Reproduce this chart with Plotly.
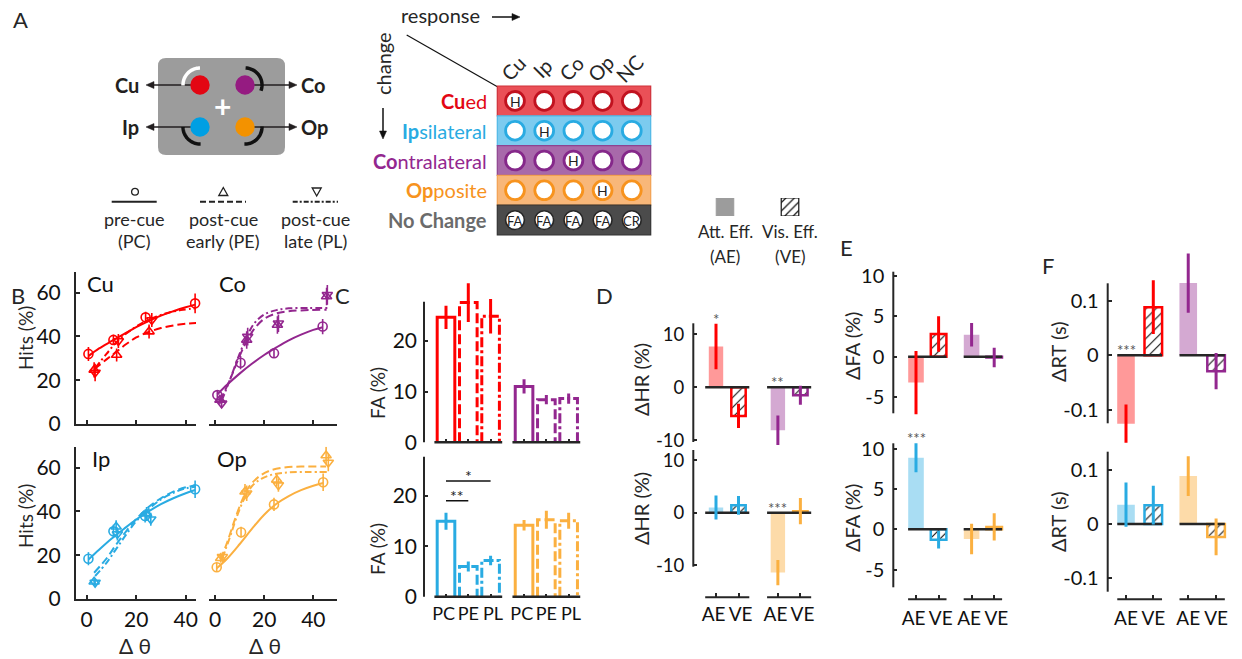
import math
import plotly.graph_objects as go

W, H = 1242, 659
FONT = "Lato, 'Noto Sans', 'DejaVu Sans', sans-serif"
INK = "#262626"
TICK = 21
NB = "\u00a0"

# ======================= DATA =======================
conditions = ["PC", "PE", "PL"]
effects = ["AE", "VE"]
locations = ["Cu", "Co", "Ip", "Op"]

# ---- Panel B: hits (%) vs orientation change (deg) ----
cu_pc_dt = [0.7, 10.8, 23.8, 43.8]
cu_pc_hit = [32.0, 38.4, 48.7, 55.1]
cu_pc_err = [3.2, 2.3, 2.5, 4.5]
cu_pe_dt = [3.0, 12.1, 25.2, 44.7]
cu_pe_hit = [24.7, 31.5, 42.2, 46.3]
cu_pe_err = [3.5, 3.0, 3.2, 4.0]
cu_pl_dt = [3.4, 12.8, 26.3, 45.8]
cu_pl_hit = [23.5, 37.9, 47.5, 53.3]
cu_pl_err = [4.0, 3.2, 3.2, 4.2]

co_pc_dt = [0.95, 10.4, 24.0, 43.8]
co_pc_hit = [13.2, 28.0, 32.3, 44.5]
co_pc_err = [2.0, 3.0, 2.2, 3.5]
co_pe_dt = [2.0, 12.9, 25.4, 45.4]
co_pe_hit = [11.0, 38.4, 45.2, 58.2]
co_pe_err = [2.0, 4.0, 4.0, 4.0]
co_pl_dt = [2.7, 13.3, 25.8, 45.7]
co_pl_hit = [9.4, 39.9, 46.0, 59.0]
co_pl_err = [2.0, 4.0, 4.0, 4.5]

ip_pc_dt = [0.7, 10.8, 23.6, 43.8]
ip_pc_hit = [18.4, 30.9, 37.9, 50.1]
ip_pc_err = [3.0, 3.0, 3.0, 4.0]
ip_pe_dt = [3.0, 11.9, 24.2, 45.1]
ip_pe_hit = [7.9, 33.0, 39.0, 54.4]
ip_pe_err = [1.5, 3.0, 3.0, 4.0]
ip_pl_dt = [3.4, 12.4, 25.9, 45.8]
ip_pl_hit = [7.5, 29.7, 36.4, 53.6]
ip_pl_err = [1.5, 3.0, 3.0, 4.0]

op_pc_dt = [0.7, 10.6, 24.0, 44.0]
op_pc_hit = [14.5, 30.5, 43.2, 53.3]
op_pc_err = [2.0, 2.5, 3.0, 4.0]
op_pe_dt = [2.3, 12.2, 25.1, 45.2]
op_pe_hit = [18.6, 49.0, 54.4, 65.5]
op_pe_err = [2.0, 3.5, 3.0, 4.0]
op_pl_dt = [3.0, 12.9, 25.8, 46.1]
op_pl_hit = [19.3, 48.3, 52.0, 62.3]
op_pl_err = [2.0, 3.5, 3.0, 4.0]

# fitted psychometric curves
cu_pc_fit_dt = [0.7, 5, 10, 15, 20, 25, 30, 35, 40, 43.8]
cu_pc_fit_hit = [31, 34.5, 37.8, 41, 44.2, 47, 49.5, 51.5, 53.3, 54.5]
cu_pe_fit_dt = [3, 8, 12, 16, 20, 25, 30, 35, 40, 44.7]
cu_pe_fit_hit = [25, 29.5, 33, 36.5, 39.5, 42, 43.8, 45, 45.8, 46.2]
cu_pl_fit_dt = [3.4, 8, 12.8, 18, 23, 28, 33, 38, 45.8]
cu_pl_fit_hit = [25.5, 32, 38.3, 43, 46.5, 49, 50.8, 52, 53]

co_pc_fit_dt = [0.95, 5, 10, 15, 20, 25, 30, 35, 40, 43.8]
co_pc_fit_hit = [13.5, 18, 23, 27.5, 31.5, 35, 38.2, 40.8, 43, 44.2]
co_pe_fit_dt = [2, 6, 10, 13, 16, 20, 25, 30, 38, 45.4]
co_pe_fit_hit = [10.5, 20, 31, 38, 43.5, 48, 50.5, 51.5, 52, 52.2]
co_pl_fit_dt = [2.7, 6, 10, 13, 16, 20, 25, 30, 38, 45.7]
co_pl_fit_hit = [10.5, 20, 32, 40, 46, 50, 52, 52.8, 53, 53]

ip_pc_fit_dt = [0.7, 5, 10, 15, 20, 25, 30, 35, 40, 43.8]
ip_pc_fit_hit = [18, 22.5, 27.5, 32, 36.3, 40, 43.3, 46, 48.3, 49.8]
ip_pe_fit_dt = [3, 8, 12, 16, 20, 25, 30, 35, 40, 45.1]
ip_pe_fit_hit = [12, 18.5, 25, 31, 36.5, 42, 46, 49, 51, 52]
ip_pl_fit_dt = [3.4, 8, 12, 16, 20, 25, 30, 35, 40, 45.8]
ip_pl_fit_hit = [10.5, 16.5, 23, 29.5, 35.5, 41, 45.5, 48.5, 50.5, 51.5]

op_pc_fit_dt = [0.7, 5, 10, 15, 20, 25, 30, 35, 40, 44]
op_pc_fit_hit = [14, 18.5, 25, 32, 38.5, 43.5, 47, 49.7, 51.7, 53]
op_pe_fit_dt = [2.3, 5, 8, 11, 14, 18, 22, 28, 35, 45.2]
op_pe_fit_hit = [18, 26, 36, 45, 51.5, 56, 58.5, 60, 60.5, 60.5]
op_pl_fit_dt = [3, 6, 9, 12, 15, 19, 24, 30, 38, 46.1]
op_pl_fit_hit = [18.5, 28, 38, 46, 51.5, 55, 57, 57.8, 58, 58]

dtheta_ticks = [0, 20, 40]
hits_ticks = [0, 20, 40, 60]

# ---- Panel C: false alarms (%) ----
fa_cu = [24.6, 27.5, 24.8]
fa_cu_err = [2.3, 3.8, 3.4]
fa_co = [11.0, 8.4, 8.6]
fa_co_err = [1.4, 0.9, 1.0]
fa_ip = [15.0, 6.0, 7.2]
fa_ip_err = [1.7, 1.0, 0.95]
fa_op = [14.2, 15.3, 15.1]
fa_op_err = [1.05, 1.8, 1.6]
fa_ticks = [0, 10, 20]
# significance brackets (Ip): from, to, height, label
fa_ip_sig = [("PC", "PE", 19.1, "**"), ("PC", "PL", 23.0, "*")]

# ---- Panel D: delta hit rate (%) [AE, VE] ----
dhr_cu = [7.7, -5.4]
dhr_cu_err = [4.3, 2.3]
dhr_co = [-8.1, -1.5]
dhr_co_err = [2.8, 1.8]
dhr_ip = [1.0, 1.4]
dhr_ip_err = [2.3, 1.8]
dhr_op = [-11.4, 0.3]
dhr_op_err = [2.4, 2.5]
dhr_sig_cu = ["*", ""]
dhr_sig_co = ["**", ""]
dhr_sig_ip = ["", ""]
dhr_sig_op = ["***", ""]

# ---- Panel E: delta false alarms (%) ----
dfa_cu = [-3.2, 2.8]
dfa_cu_err = [3.9, 2.2]
dfa_co = [2.7, -0.1]
dfa_co_err = [1.45, 1.2]
dfa_ip = [8.9, -1.3]
dfa_ip_err = [1.8, 1.1]
dfa_op = [-1.2, 0.3]
dfa_op_err = [1.9, 1.7]
dfa_sig_cu = ["", ""]
dfa_sig_co = ["", ""]
dfa_sig_ip = ["***", ""]
dfa_sig_op = ["", ""]

# ---- Panel F: delta reaction time (s) ----
drt_cu = [-0.125, 0.088]
drt_cu_err = [0.035, 0.049]
drt_co = [0.132, -0.029]
drt_co_err = [0.054, 0.033]
drt_ip = [0.036, 0.035]
drt_ip_err = [0.041, 0.036]
drt_op = [0.089, -0.024]
drt_op_err = [0.037, 0.034]
drt_sig_cu = ["***", ""]
drt_sig_co = ["", ""]
drt_sig_ip = ["", ""]
drt_sig_op = ["", ""]

# ---- Panel A: response matrix ----
mat_rows = ["<b>Cu</b>ed", "<b>Ip</b>silateral", "<b>Co</b>ntralateral", "<b>Op</b>posite", "<b>No Change</b>"]
mat_cols = ["Cu", "Ip", "Co", "Op", "NC"]
mat_cells = [["H", "", "", "", ""],
             ["", "H", "", "", ""],
             ["", "", "H", "", ""],
             ["", "", "", "H", ""],
             ["FA", "FA", "FA", "FA", "CR"]]
legend_lines = [["pre-cue", "(PC)"], ["post-cue", "early (PE)"], ["post-cue", "late (PL)"]]

# ======================= STYLE =======================
loc_color = {"Cu": "#ff0000", "Co": "#93278f", "Ip": "#29abe2", "Op": "#fbb040"}
loc_light = {"Cu": "rgba(255,0,0,0.40)", "Co": "rgba(147,39,143,0.40)",
             "Ip": "rgba(41,171,226,0.40)", "Op": "rgba(251,176,64,0.45)"}

traces, shapes, annots = [], [], []
axes = {}


def PX(x):
    return x / W


def PY(y):
    return 1 - y / H


def xr(n):
    return "x" if n == 1 else f"x{n}"


def yr(n):
    return "y" if n == 1 else f"y{n}"


def tf(size):
    return dict(size=size, color="#111", family=FONT)


def base_axis():
    return dict(showgrid=False, zeroline=False, automargin=False, fixedrange=True,
                linecolor=INK, linewidth=2, tickcolor=INK, tickwidth=1.5, ticklen=4,
                ticks="inside", showline=False, tickangle=0, tickfont=tf(TICK))


def make_axes(n, xs, ys, xo=None, yo=None):
    p0, p1, z, s = xs
    pb, pt, zy, sy = ys
    xa = base_axis()
    xa.update(domain=[PX(p0), PX(p1)], range=[(p0 - z) / s, (p1 - z) / s], anchor=yr(n))
    ya = base_axis()
    ya.update(domain=[PY(pb), PY(pt)], range=[(zy - pb) / sy, (zy - pt) / sy], anchor=xr(n))
    xa.update(xo or {})
    ya.update(yo or {})
    axes["xaxis" if n == 1 else f"xaxis{n}"] = xa
    axes["yaxis" if n == 1 else f"yaxis{n}"] = ya


def xmap(xs, v):
    return xs[2] + v * xs[3]


def add_line(x0, y0, x1, y1, color=INK, width=1.5, dash=None):
    ln = dict(color=color, width=width)
    if dash:
        ln["dash"] = dash
    shapes.append(dict(type="line", xref="paper", yref="paper", x0=PX(x0), y0=PY(y0),
                       x1=PX(x1), y1=PY(y1), line=ln))


def add_path(pts, closed=False, color=INK, width=1.5, fill=None):
    s = "M " + " L ".join(f"{PX(x):.5f},{PY(y):.5f}" for x, y in pts)
    if closed:
        s += " Z"
    shapes.append(dict(type="path", xref="paper", yref="paper", path=s,
                       line=dict(color=color, width=width),
                       fillcolor=fill if fill else "rgba(0,0,0,0)"))


def add_rect(x0, y0, x1, y1, fill, color=None, width=0):
    shapes.append(dict(type="rect", xref="paper", yref="paper", x0=PX(x0), x1=PX(x1),
                       y0=PY(y1), y1=PY(y0), fillcolor=fill,
                       line=dict(color=color or fill, width=width)))


def add_circle(cx, cy, r, fill, color=None, width=0):
    shapes.append(dict(type="circle", xref="paper", yref="paper", x0=PX(cx - r), x1=PX(cx + r),
                       y0=PY(cy + r), y1=PY(cy - r), fillcolor=fill,
                       line=dict(color=color or fill, width=width)))


def add_arc(cx, cy, r, a0, a1, color, width):
    pts = []
    n = 24
    for i in range(n + 1):
        a = math.radians(a0 + (a1 - a0) * i / n)
        pts.append((cx + r * math.cos(a), cy - r * math.sin(a)))
    add_path(pts, color=color, width=width)


def add_arrow(x0, y0, x1, y1, color=INK, width=1.5, L=8, hw=3.5):
    d = math.hypot(x1 - x0, y1 - y0)
    ux, uy = (x1 - x0) / d, (y1 - y0) / d
    bx, by = x1 - L * ux, y1 - L * uy
    add_line(x0, y0, bx, by, color=color, width=width)
    add_path([(x1, y1), (bx - hw * uy, by + hw * ux), (bx + hw * uy, by - hw * ux)],
             closed=True, color=color, width=0.5, fill=color)


def add_text(x, y, s, size=17, color=INK, angle=0, xanchor="center", yanchor="middle"):
    annots.append(dict(xref="paper", yref="paper", x=PX(x), y=PY(y), text=s, showarrow=False,
                       textangle=angle, xanchor=xanchor, yanchor=yanchor,
                       font=dict(size=size, color=color, family=FONT)))


# ======================= PANEL A =======================
add_text(20, 20, "A", size=22)
# display schematic
r = 8
x0, y0, x1, y1 = 158, 58, 285, 155
p = (f"M {PX(x0+r)},{PY(y0)} L {PX(x1-r)},{PY(y0)} Q {PX(x1)},{PY(y0)} {PX(x1)},{PY(y0+r)} "
     f"L {PX(x1)},{PY(y1-r)} Q {PX(x1)},{PY(y1)} {PX(x1-r)},{PY(y1)} "
     f"L {PX(x0+r)},{PY(y1)} Q {PX(x0)},{PY(y1)} {PX(x0)},{PY(y1-r)} "
     f"L {PX(x0)},{PY(y0+r)} Q {PX(x0)},{PY(y0)} {PX(x0+r)},{PY(y0)} Z")
shapes.append(dict(type="path", xref="paper", yref="paper", path=p, fillcolor="#9c9c9c",
                   line=dict(width=0)))
dots = {"Cu": (200, 85, "#e30613"), "Co": (245, 85, "#951b81"),
        "Ip": (200, 127, "#009fe3"), "Op": (245, 127, "#f39200")}
add_arrow(200, 85, 146, 85, color="#231f20")
add_arrow(245, 85, 297, 85, color="#231f20")
add_arrow(200, 127, 146, 127, color="#231f20")
add_arrow(245, 127, 297, 127, color="#231f20")
add_arc(200, 85, 17, 90, 182, "white", 3.5)
add_arc(245, 85, 17, -20, 88, "#111", 3.5)
add_arc(200, 127, 17, 180, 272, "#111", 3.5)
add_arc(245, 127, 17, -92, 2, "#111", 3.5)
for k, (cx, cy, c) in dots.items():
    add_circle(cx, cy, 9.7, c)
add_text(222, 106, "<b>+</b>", size=30, color="white")
add_text(127, 85, "<b>Cu</b>", size=20, color="#231f20")
add_text(313, 85, "<b>Co</b>", size=20, color="#231f20")
add_text(130, 127, "<b>Ip</b>", size=20, color="#231f20")
add_text(314, 127, "<b>Op</b>", size=20, color="#231f20")

# condition line-style legend
leg_x = [(111.7, 156.7), (200, 246), (292.7, 338)]
leg_dash = ["solid", "6px,3px", "5px,2px,2px,2px"]
for k in range(3):
    a, b = leg_x[k]
    cx = (a + b) / 2
    add_line(a, 201.7, b, 201.7, color="#222", width=2, dash=leg_dash[k])
    add_text(cx, 219, legend_lines[k][0], size=18)
    add_text(cx, 241, legend_lines[k][1], size=18)
add_circle(135, 191.7, 3.4, "rgba(0,0,0,0)", color="#222", width=1.3)
add_path([(223.3 - 4.5, 195.5), (223.3 + 4.5, 195.5), (223.3, 187.5)], closed=True, color="#222", width=1.3)
add_path([(316.7 - 4.5, 188), (316.7 + 4.5, 188), (316.7, 196)], closed=True, color="#222", width=1.3)

# response matrix
add_text(440, 15, "response", size=20)
add_arrow(492, 17, 520, 17, color="#111")
add_text(383, 64, "change", size=20, angle=-90)
add_arrow(383, 108, 383, 139, color="#111")
add_line(406.7, 35, 498.3, 87.3, color="#111", width=1.2)
row_bg = ["#ea5057", "#7ccbef", "#a869aa", "#f8b779", "#4b4b4b"]
row_edge = ["#cf3039", "#4fb7e6", "#8d4390", "#f2a050", "#333333"]
circ_edge = ["#c1121f", "#29abe2", "#85288a", "#f7931e", "#262626"]
label_col = ["#e30613", "#29abe2", "#93278f", "#f7931e", "#6b6b6b"]
row_h = 29.8
for i in range(5):
    top = 86 + i * row_h
    add_rect(497.3, top, 650.7, top + row_h, row_bg[i], color=row_edge[i], width=1.2)
    cy = top + row_h / 2
    add_text(489, cy, mat_rows[i], size=20, color=label_col[i], xanchor="right")
    for j in range(5):
        cx = 515 + j * 29.2
        add_circle(cx, cy, 9.4, "white", color=circ_edge[i], width=2.8 if i < 4 else 1.6)
        if mat_cells[i][j]:
            add_text(cx, cy + 0.5, mat_cells[i][j], size=14 if i < 4 else 13, color="#222")
for j in range(5):
    add_text(513 + j * 29.2, 68, mat_cols[j], size=20, angle=-45)

# ======================= PANEL B =======================
hits_points = {
    "Cu": [(cu_pc_dt, cu_pc_hit, cu_pc_err), (cu_pe_dt, cu_pe_hit, cu_pe_err), (cu_pl_dt, cu_pl_hit, cu_pl_err)],
    "Co": [(co_pc_dt, co_pc_hit, co_pc_err), (co_pe_dt, co_pe_hit, co_pe_err), (co_pl_dt, co_pl_hit, co_pl_err)],
    "Ip": [(ip_pc_dt, ip_pc_hit, ip_pc_err), (ip_pe_dt, ip_pe_hit, ip_pe_err), (ip_pl_dt, ip_pl_hit, ip_pl_err)],
    "Op": [(op_pc_dt, op_pc_hit, op_pc_err), (op_pe_dt, op_pe_hit, op_pe_err), (op_pl_dt, op_pl_hit, op_pl_err)],
}
hits_fits = {
    "Cu": [(cu_pc_fit_dt, cu_pc_fit_hit), (cu_pe_fit_dt, cu_pe_fit_hit), (cu_pl_fit_dt, cu_pl_fit_hit)],
    "Co": [(co_pc_fit_dt, co_pc_fit_hit), (co_pe_fit_dt, co_pe_fit_hit), (co_pl_fit_dt, co_pl_fit_hit)],
    "Ip": [(ip_pc_fit_dt, ip_pc_fit_hit), (ip_pe_fit_dt, ip_pe_fit_hit), (ip_pl_fit_dt, ip_pl_fit_hit)],
    "Op": [(op_pc_fit_dt, op_pc_fit_hit), (op_pe_fit_dt, op_pe_fit_hit), (op_pl_fit_dt, op_pl_fit_hit)],
}
BX_L = (76, 196, 86.7, 2.475)
BX_R = (209, 337, 215, 2.458)
BY_T = (424, 271.6, 424, 2.19)
BY_B = (599, 446.7, 599, 2.19)
B_geo = {"Cu": (1, BX_L, BY_T, True, False), "Co": (2, BX_R, BY_T, False, False),
         "Ip": (3, BX_L, BY_B, True, True), "Op": (4, BX_R, BY_B, False, True)}
symbols = ["circle-open", "triangle-up-open", "triangle-down-open"]
curve_dash = ["solid", "8px,4px", "7px,3px,2px,3px"]
for loc in locations:
    n, xs, ys, show_y, bottom = B_geo[loc]
    col = loc_color[loc]
    for k in range(3):
        fx, fy = hits_fits[loc][k]
        traces.append(go.Scatter(x=fx, y=fy, mode="lines", xaxis=xr(n), yaxis=yr(n),
                                 line=dict(color=col, width=2, dash=curve_dash[k], shape="spline", smoothing=1.0),
                                 hoverinfo="skip"))
    for k in range(3):
        dx, hy, he = hits_points[loc][k]
        traces.append(go.Scatter(x=dx, y=hy, mode="markers", xaxis=xr(n), yaxis=yr(n), cliponaxis=False,
                                 marker=dict(symbol=symbols[k], size=9, color=col, line=dict(width=1.6, color=col)),
                                 error_y=dict(type="data", array=he, visible=True, thickness=1.6, width=0, color=col),
                                 name=conditions[k]))
    xo = dict(showline=True, tickvals=dtheta_ticks, showticklabels=bottom, ticklabelstandoff=1)
    yo = dict(showline=True, tickvals=hits_ticks, ticklabelstandoff=9) if show_y else dict(visible=False)
    make_axes(n, xs, ys, xo, yo)
    tx = xmap(xs, 0) + (14 if loc in ("Cu", "Ip") else 17)
    add_text(tx, 283 if not bottom else 458, loc, size=22, color="#111", xanchor="center")
add_text(18, 296, "B", size=22)
add_text(25, 338, "Hits (%)", size=19, angle=-90)
add_text(25, 516, "Hits (%)", size=19, angle=-90)
add_text(135, 645, "Δ θ", size=21)
add_text(265, 645, "Δ θ", size=21)

# ======================= PANEL C =======================
c_pos = [[0, 1, 2], [3.5, 4.5, 5.5]]
c_w = 0.79
c_dash = ["solid", "10px,4px", "10px,3px,3px,3px"]
# condition labels nudged apart with no-break spaces (as in the original)
c_ticktext = [conditions[0] + NB, conditions[1], NB + conditions[2]] * 2
CX = (424, 580, 446, 22.3)
CY_T = (442.3, 280, 442.3, 5.08)
CY_B = (596.7, 456.7, 596.7, 5.03)
C_yline = {5: (301.7, 442.3), 6: (456.7, 596.7)}
C_groups = {5: [("Cu", fa_cu, fa_cu_err), ("Co", fa_co, fa_co_err)],
            6: [("Ip", fa_ip, fa_ip_err), ("Op", fa_op, fa_op_err)]}
for n, ys in ((5, CY_T), (6, CY_B)):
    for g, (loc, vals, errs) in enumerate(C_groups[n]):
        col = loc_color[loc]
        for k in range(3):
            pc = c_pos[g][k]
            v = vals[k]
            traces.append(go.Scatter(x=[pc - c_w / 2, pc - c_w / 2, pc + c_w / 2, pc + c_w / 2],
                                     y=[0, v, v, 0], mode="lines", xaxis=xr(n), yaxis=yr(n),
                                     line=dict(color=col, width=3, dash=c_dash[k]), hoverinfo="skip"))
        traces.append(go.Scatter(x=c_pos[g], y=vals, mode="markers", xaxis=xr(n), yaxis=yr(n), cliponaxis=False,
                                 marker=dict(size=1, color="rgba(0,0,0,0)"),
                                 error_y=dict(type="data", array=errs, visible=True, thickness=3, width=0, color=col)))
        add_line(xmap(CX, c_pos[g][0] - 0.52), ys[0], xmap(CX, c_pos[g][2] + 0.52), ys[0], color=INK, width=2.5)
    add_line(CX[0], C_yline[n][0], CX[0], C_yline[n][1], color=INK, width=2)
    xo = dict(tickvals=c_pos[0] + c_pos[1], ticktext=c_ticktext, showticklabels=(n == 6),
              ticklen=3, ticklabelstandoff=4, tickfont=tf(18))
    yo = dict(tickvals=fa_ticks, ticklabelstandoff=6)
    make_axes(n, CX, ys, xo, yo)
# significance brackets on Ip
for a, b, h, lab in fa_ip_sig:
    xa_ = c_pos[0][conditions.index(a)]
    xb_ = c_pos[0][conditions.index(b)]
    traces.append(go.Scatter(x=[xa_, xb_], y=[h, h], mode="lines", xaxis="x6", yaxis="y6",
                             line=dict(color="#111", width=1.5), hoverinfo="skip"))
    annots.append(dict(xref="x6", yref="y6", x=(xa_ + xb_) / 2, y=h, text=lab, showarrow=False,
                       yanchor="bottom", yshift=-6, font=dict(size=16, color="#222", family=FONT)))
add_text(342, 296, "C", size=22)
add_text(377, 393, "FA (%)", size=19, angle=-90)
add_text(377, 549, "FA (%)", size=19, angle=-90)


# ======================= PANELS D / E / F =======================
def effect_panel(n, xs, ys, pos, bw, ext, groups, yline, bottom, ytv, ytt, xstand=4,
                 xfont=19, yfont=20, nudge=True, star_shift=5):
    # AE bars
    traces.append(go.Bar(x=[pos[0][0], pos[1][0]], y=[groups[0][1][0], groups[1][1][0]], width=bw,
                         xaxis=xr(n), yaxis=yr(n), cliponaxis=False,
                         marker=dict(color=[loc_light[groups[0][0]], loc_light[groups[1][0]]], line=dict(width=0)),
                         hoverinfo="skip"))
    # VE bars
    traces.append(go.Bar(x=[pos[0][1], pos[1][1]], y=[groups[0][1][1], groups[1][1][1]], width=bw,
                         xaxis=xr(n), yaxis=yr(n), cliponaxis=False,
                         marker=dict(color="white",
                                     line=dict(color=[loc_color[groups[0][0]], loc_color[groups[1][0]]], width=2.5),
                                     pattern=dict(shape="/", fgcolor="#111", bgcolor="white", size=7, solidity=0.16)),
                         hoverinfo="skip"))
    # zero lines
    zx, zy = [], []
    for g in range(2):
        zx += [pos[g][0] - ext, pos[g][1] + ext, None]
        zy += [0, 0, None]
    traces.append(go.Scatter(x=zx, y=zy, mode="lines", xaxis=xr(n), yaxis=yr(n),
                             line=dict(color=INK, width=2.5), hoverinfo="skip"))
    # error bars + stars
    for g, (loc, vals, errs, sig) in enumerate(groups):
        traces.append(go.Scatter(x=pos[g], y=vals, mode="markers", xaxis=xr(n), yaxis=yr(n), cliponaxis=False,
                                 marker=dict(size=1, color="rgba(0,0,0,0)"),
                                 error_y=dict(type="data", array=errs, visible=True, thickness=3, width=0,
                                              color=loc_color[loc])))
        for k in range(2):
            if sig[k]:
                annots.append(dict(xref=xr(n), yref=yr(n), x=pos[g][k], y=max(vals[k] + errs[k], 0),
                                   text=sig[k], showarrow=False, yanchor="middle", yshift=star_shift,
                                   font=dict(size=15, color="#555", family=FONT)))
    # axis lines
    add_line(xs[0], yline[0], xs[0], yline[1], color=INK, width=2)
    if bottom:
        for g in range(2):
            add_line(xmap(xs, pos[g][0] - ext), ys[0], xmap(xs, pos[g][1] + ext), ys[0], color=INK, width=2)
    flat = pos[0] + pos[1]
    if nudge:
        ttext = [effects[0] + NB, NB + effects[1]] * 2
    else:
        ttext = effects * 2
    xo = dict(tickvals=flat, ticktext=ttext, showticklabels=bottom, ticks="inside" if bottom else "",
              ticklabelstandoff=xstand, tickfont=tf(xfont))
    yo = dict(tickvals=ytv, ticktext=ytt, ticklabelstandoff=8, tickfont=tf(yfont))
    make_axes(n, xs, ys, xo, yo)


DX = (693.3, 822, 716, 22.5)
D_pos = [[0, 1], [2.75, 3.75]]
effect_panel(7, DX, (447, 318, 387.3, 5.3), D_pos, 0.64, 0.48,
             [("Cu", dhr_cu, dhr_cu_err, dhr_sig_cu), ("Co", dhr_co, dhr_co_err, dhr_sig_co)],
             (323.3, 442), False, [-10, 0, 10], ["-10", "0", "10"], yfont=18.5)
effect_panel(8, DX, (597.3, 450, 512.7, 5.25), D_pos, 0.64, 0.48,
             [("Ip", dhr_ip, dhr_ip_err, dhr_sig_ip), ("Op", dhr_op, dhr_op_err, dhr_sig_op)],
             (450, 566.7), True, [-10, 0, 10], ["-10", "0", "10"], yfont=18.5)
EX = (893.3, 1008, 916, 22.6)
E_pos = [[0, 1], [2.46, 3.46]]
effect_panel(9, EX, (419, 268, 356.7, 8.1), E_pos, 0.69, 0.35,
             [("Cu", dfa_cu, dfa_cu_err, dfa_sig_cu), ("Co", dfa_co, dfa_co_err, dfa_sig_co)],
             (271.7, 413.3), False, [-5, 0, 5, 10], ["-5", "0", "5", "10"])
effect_panel(10, EX, (599.3, 437, 529.3, 8.05), E_pos, 0.69, 0.35,
             [("Ip", dfa_ip, dfa_ip_err, dfa_sig_ip), ("Op", dfa_op, dfa_op_err, dfa_sig_op)],
             (443.3, 587.3), True, [-5, 0, 5, 10], ["-5", "0", "5", "10"], xstand=6)
FX = (1107.7, 1234, 1126, 27.3)
F_pos = [[0, 1], [2.28, 3.30]]
effect_panel(11, FX, (446, 248, 355.3, 547), F_pos, 0.645, 0.32,
             [("Cu", drt_cu, drt_cu_err, drt_sig_cu), ("Co", drt_co, drt_co_err, drt_sig_co)],
             (283.3, 423.3), False, [-0.1, 0, 0.1], ["-0.1", "0", "0.1"], nudge=False)
effect_panel(12, FX, (599.3, 449, 524, 538), F_pos, 0.645, 0.32,
             [("Ip", drt_ip, drt_ip_err, drt_sig_ip), ("Op", drt_op, drt_op_err, drt_sig_op)],
             (451.7, 591.7), True, [-0.1, 0, 0.1], ["-0.1", "0", "0.1"], xstand=6, nudge=False)

add_text(604, 296, "D", size=22)
add_text(846, 247, "E", size=22)
add_text(1048, 265, "F", size=22)
add_text(641, 380, "ΔHR (%)", size=20, angle=-90)
add_text(641, 509, "ΔHR (%)", size=20, angle=-90)
add_text(852, 346, "ΔFA (%)", size=20, angle=-90)
add_text(852, 518, "ΔFA (%)", size=20, angle=-90)
add_text(1058, 352, "ΔRT (s)", size=20, angle=-90)
add_text(1058, 522, "ΔRT (s)", size=20, angle=-90)

# AE / VE legend swatches drawn as bars
traces.append(go.Bar(x=[0], y=[1], width=0.27, xaxis="x13", yaxis="y13",
                     marker=dict(color="#9c9c9c", line=dict(color="#9c9c9c", width=1)), hoverinfo="skip"))
traces.append(go.Bar(x=[1], y=[1], width=0.27, xaxis="x13", yaxis="y13",
                     marker=dict(color="white", line=dict(color="#111", width=1.2),
                                 pattern=dict(shape="/", fgcolor="#111", bgcolor="white", size=6, solidity=0.2)),
                     hoverinfo="skip"))
axes["xaxis13"] = dict(domain=[PX(692.5), PX(822.5)], range=[-0.5, 1.5], visible=False, fixedrange=True, anchor="y13")
axes["yaxis13"] = dict(domain=[PY(216), PY(198)], range=[0, 1], visible=False, fixedrange=True, anchor="x13")
add_text(725, 231, "Att. Eff.", size=17)
add_text(725, 256, "(AE)", size=17)
add_text(790, 231, "Vis. Eff.", size=17)
add_text(790, 256, "(VE)", size=17)

fig = go.Figure(data=traces)
fig.update_layout(width=W, height=H, margin=dict(l=0, r=0, t=0, b=0), template="none",
                  paper_bgcolor="white", plot_bgcolor="rgba(0,0,0,0)", barmode="overlay",
                  showlegend=False, font=dict(family=FONT, size=18, color=INK),
                  shapes=shapes, annotations=annots, **axes)
fig.write_html("out.html", config={"displayModeBar": False},
               post_script="document.body.style.margin='0px';")
